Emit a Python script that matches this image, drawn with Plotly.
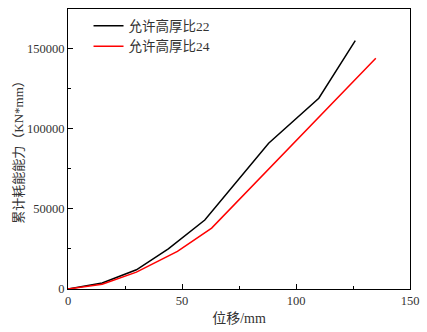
import plotly.graph_objects as go

# Cumulative energy dissipation vs displacement
disp_22 = [0, 15, 30, 44, 60, 88, 110, 126]
energy_22 = [0, 3700, 12000, 25000, 43000, 91000, 119000, 155000]
disp_24 = [0, 15, 30, 48, 63, 135]
energy_24 = [0, 3000, 10500, 23500, 38000, 144000]

name_22 = "允许高厚比22"
name_24 = "允许高厚比24"

x_ticks = [0, 50, 100, 150]
x_labels = ["0", "50", "100", "150"]
y_ticks = [0, 50000, 100000, 150000]
y_labels = ["0", "50000", "100000", "150000"]

font_family = '"Liberation Serif", "Noto Sans CJK SC", serif'

fig = go.Figure()
fig.add_trace(go.Scatter(x=disp_22, y=energy_22, mode="lines", name=name_22,
                         line=dict(color="black", width=1.5)))
fig.add_trace(go.Scatter(x=disp_24, y=energy_24, mode="lines", name=name_24,
                         line=dict(color="red", width=1.5)))

axis_common = dict(
    showline=True, linecolor="black", linewidth=1.2, mirror=True,
    showgrid=False, zeroline=False, ticks="inside", ticklen=5,
    tickcolor="black", tickwidth=1, ticklabeloverflow="allow",
    tickfont=dict(family=font_family, size=12.5, color="#333"),
    minor=dict(ticks="inside", ticklen=3, tickcolor="black", tickwidth=1),
)

fig.update_xaxes(range=[0, 150], tickvals=x_ticks, ticktext=x_labels, **axis_common,
                 title=dict(text="位移/mm", font=dict(family=font_family, size=14, color="#333"),
                            standoff=6))
fig.update_yaxes(range=[0, 174700], tickvals=y_ticks, ticktext=y_labels, **axis_common,
                 title=dict(text="累计耗能能力（KN*mm）",
                            font=dict(family=font_family, size=13, color="#333"),
                            standoff=0))
fig.update_xaxes(minor=dict(tickvals=[25, 75, 125]))
fig.update_yaxes(minor=dict(tickvals=[25000, 75000, 125000]))

fig.update_layout(
    width=427, height=332,
    margin=dict(l=68, r=8, t=8, b=40),
    plot_bgcolor="white", paper_bgcolor="white",
    font=dict(family=font_family, color="#333"),
    legend=dict(x=0.06, y=0.995, xanchor="left", yanchor="top",
                bgcolor="rgba(0,0,0,0)", font=dict(size=13.5, family=font_family, color="#333"),
                tracegroupgap=0, itemwidth=30),
)

fig.write_html("out.html")
